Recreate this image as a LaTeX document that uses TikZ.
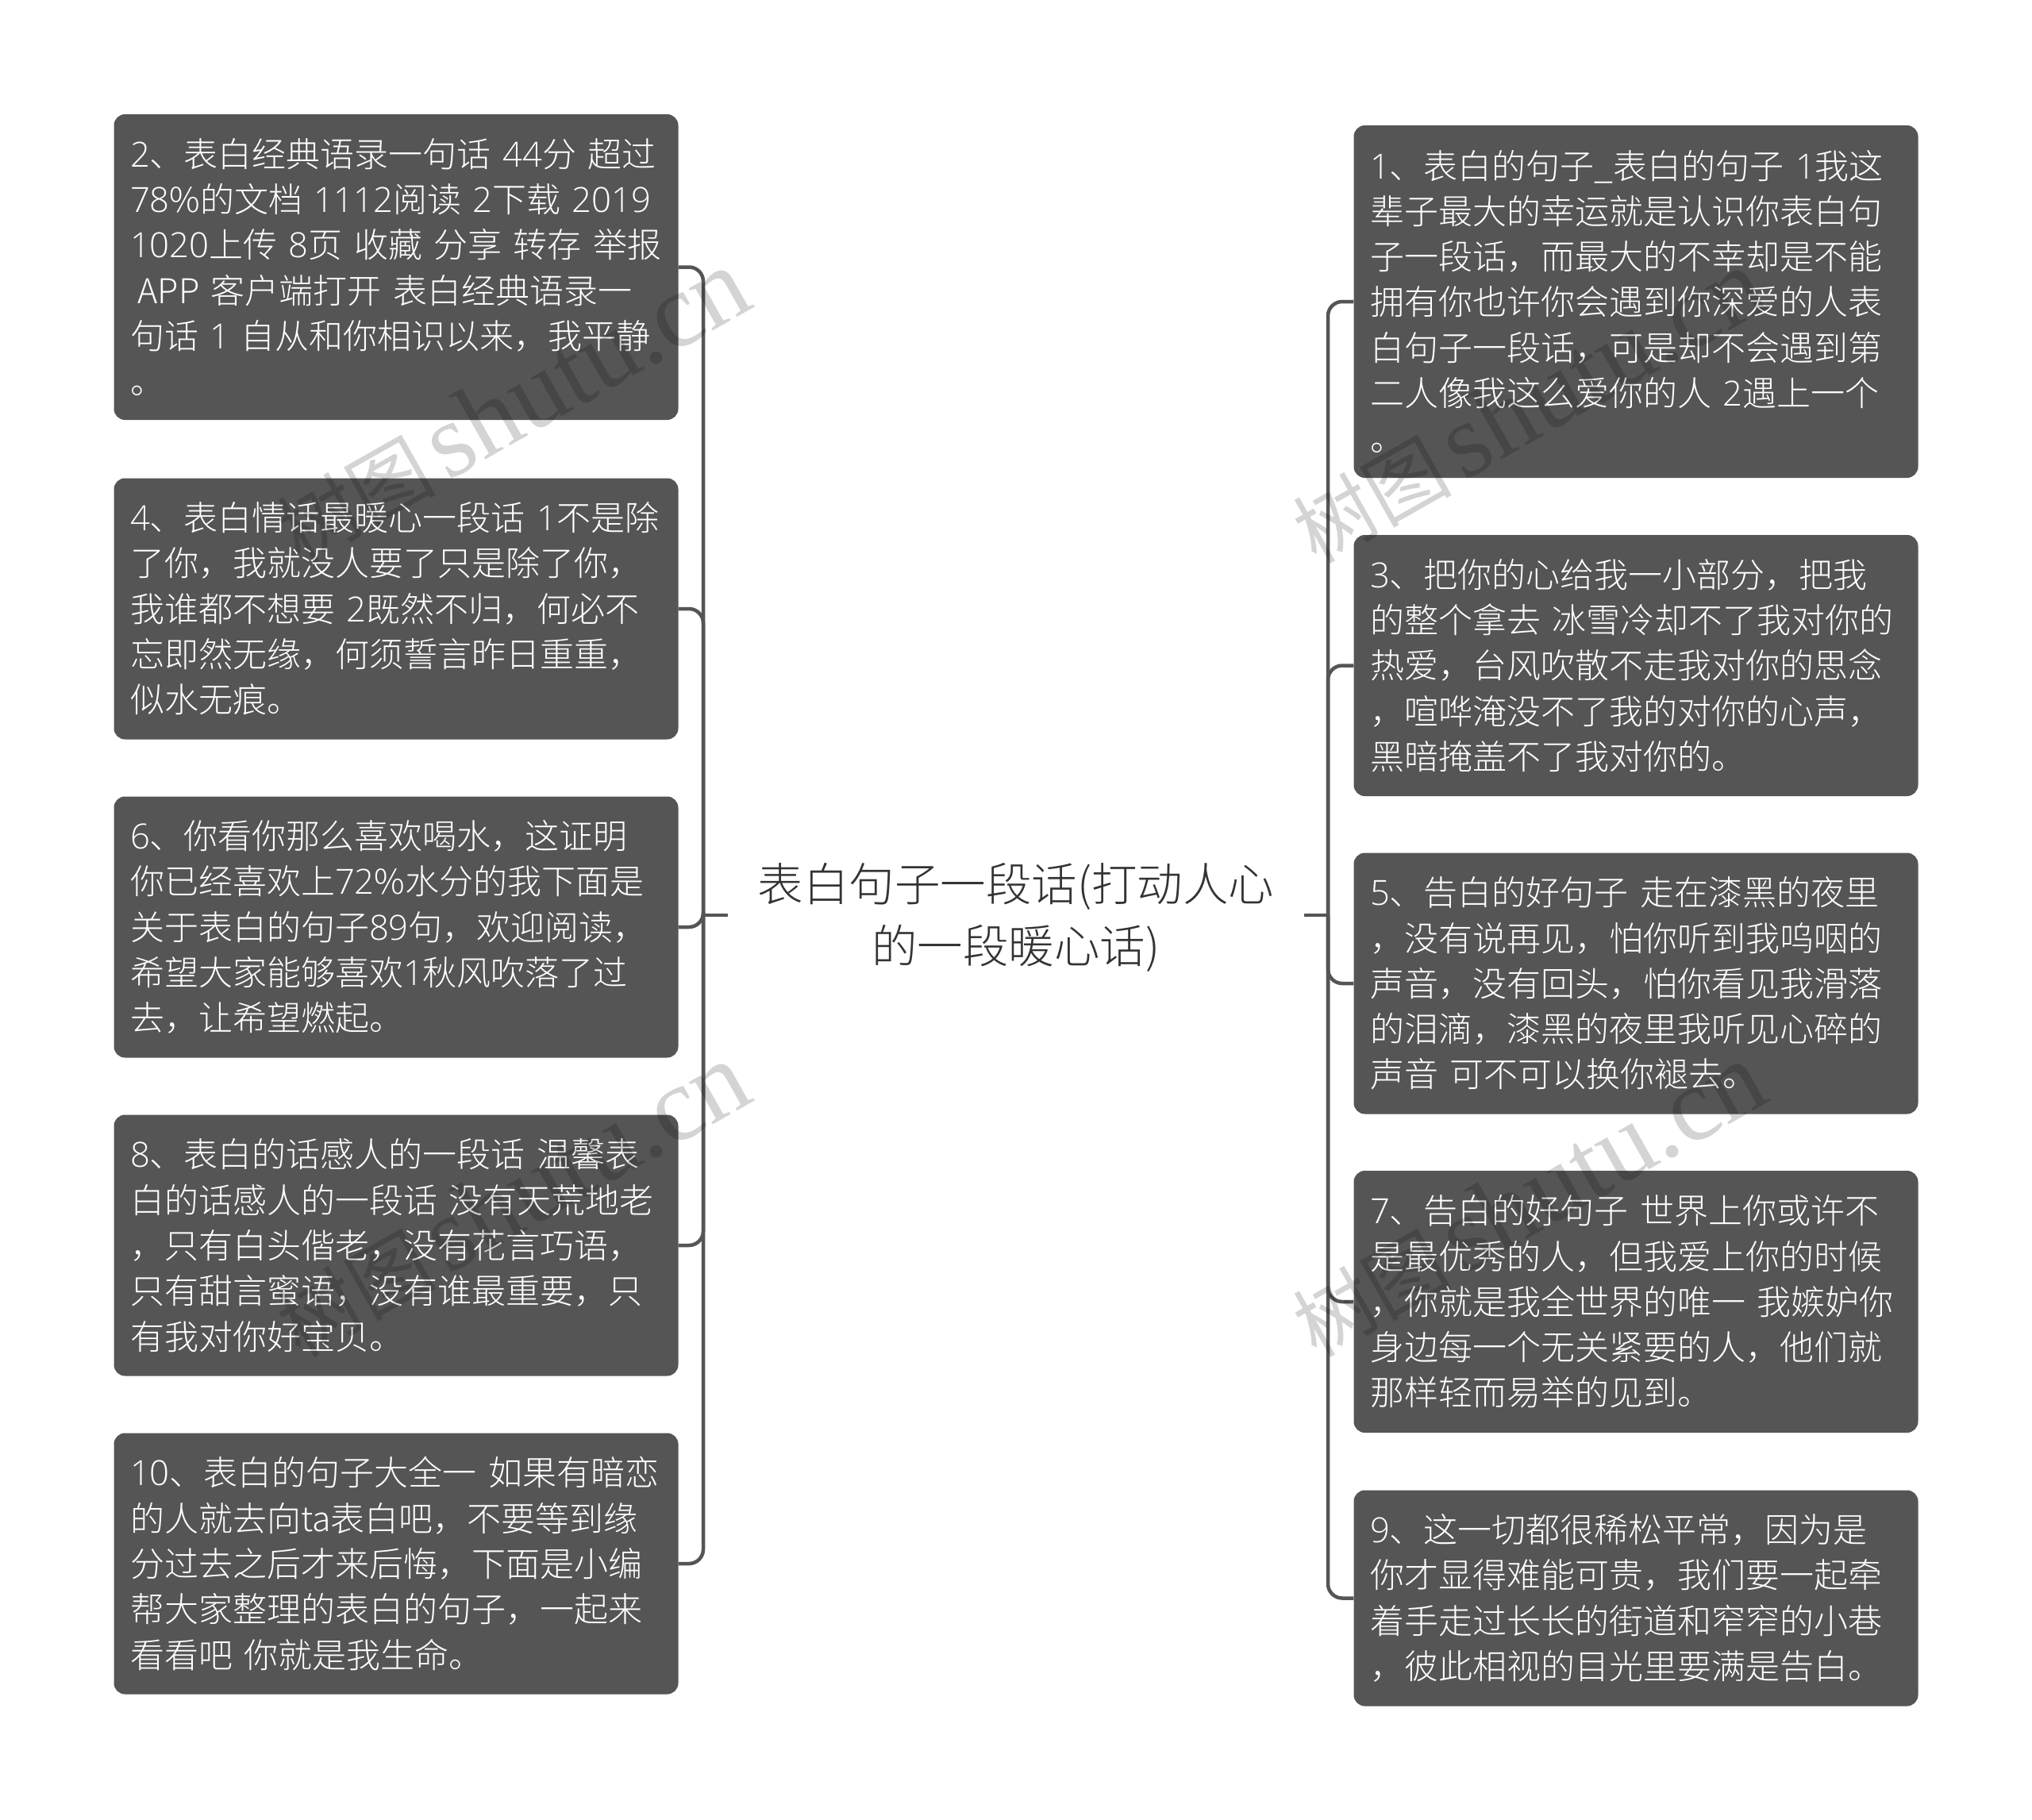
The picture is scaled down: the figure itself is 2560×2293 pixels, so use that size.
\documentclass[tikz,border=0pt]{standalone}
\usepackage{fontspec}
\setmainfont{Noto Sans CJK SC Light}[WordSpace=0.85]
\newfontfamily\markfont{Liberation Serif}
\newfontfamily\brandfont{Noto Sans CJK SC}
\newfontfamily\digitfont{Open Sans Light}[Scale=1.015]
\usepackage{xcolor}
\usetikzlibrary{positioning, calc}

\definecolor{boxgray}{HTML}{555555}
\definecolor{roottext}{HTML}{333333}

\newcommand{\dg}[1]{{\digitfont #1}}
\newcommand{\brand}{{\brandfont\fontsize{100}{120}\selectfont 树图}\hspace{14pt}{\markfont shutu.cn}}

\tikzset{
    leafbox/.style={rectangle, rounded corners=14pt, fill=boxgray, text=white, anchor=center,
          text width=670pt, minimum width=711pt, inner xsep=20.5pt, inner ysep=0pt, align=left,
          font=\fontsize{43}{57.3}\selectfont},
    rootbox/.style={rectangle, text=roottext, minimum width=726pt, inner sep=0pt, align=center,
          font=\fontsize{57.5}{78}\selectfont},
    link/.style={draw=boxgray, line width=4.5pt},
    wmark/.style={rectangle, rotate=29.5, text=black, opacity=0.17, inner sep=0pt,
          font=\fontsize{133}{140}\selectfont},
}

\begin{document}
\begin{tikzpicture}[x=1pt, y=-1pt]
    \path[use as bounding box, fill=white] (0,0) rectangle (2560,2293);

    \node[rootbox] (root) at (1280,1156)
        {表白句子一段话(打动人心\\的一段暖心话)};

    % left side
    \node[leafbox, minimum height=385pt] (tipA) at (499,336.5)
        {\dg{2}、表白经典语录一句话 \dg{44}分 超过\\\mbox{\dg{78}\%的文档 \dg{1112}阅读 \dg{2}下载 \dg{2019}}\\\mbox{\dg{1020}上传 \dg{8}页 收藏 分享 转存 举报}\\\hspace*{0.22em}APP 客户端打开 表白经典语录一\\句话 \dg{1} 自从和你相识以来，我平静\\。};
    \node[leafbox, minimum height=329pt] (tipC) at (499,767)
        {\dg{4}、表白情话最暖心一段话 \dg{1}不是除\\了你，我就没人要了只是除了你，\\我谁都不想要 \dg{2}既然不归，何必不\\忘即然无缘，何须誓言昨日重重，\\似水无痕。};
    \node[leafbox, minimum height=329pt] (tipE) at (499,1168)
        {\dg{6}、你看你那么喜欢喝水，这证明\\你已经喜欢上\dg{72}\%水分的我下面是\\关于表白的句子\dg{89}句，欢迎阅读，\\希望大家能够喜欢\dg{1}秋风吹落了过\\去，让希望燃起。};
    \node[leafbox, minimum height=329pt] (tipG) at (499,1569)
        {\dg{8}、表白的话感人的一段话 温馨表\\白的话感人的一段话 没有天荒地老\\，只有白头偕老，没有花言巧语，\\只有甜言蜜语，没有谁最重要，只\\有我对你好宝贝。};
    \node[leafbox, minimum height=329pt] (tipI) at (499,1970)
        {\dg{10}、表白的句子大全一 如果有暗恋\\的人就去向ta表白吧，不要等到缘\\分过去之后才来后悔，下面是小编\\帮大家整理的表白的句子，一起来\\看看吧 你就是我生命。};

    % right side
    \node[leafbox, minimum height=444pt] (tipB) at (2061,380)
        {\dg{1}、表白的句子\_表白的句子 \dg{1}我这\\辈子最大的幸运就是认识你表白句\\子一段话，而最大的不幸却是不能\\拥有你也许你会遇到你深爱的人表\\白句子一段话，可是却不会遇到第\\二人像我这么爱你的人 \dg{2}遇上一个\\。};
    \node[leafbox, minimum height=329pt] (tipD) at (2061,838.5)
        {\dg{3}、把你的心给我一小部分，把我\\的整个拿去 冰雪冷却不了我对你的\\热爱，台风吹散不走我对你的思念\\，喧哗淹没不了我的对你的心声，\\黑暗掩盖不了我对你的。};
    \node[leafbox, minimum height=329pt] (tipF) at (2061,1239)
        {\dg{5}、告白的好句子 走在漆黑的夜里\\，没有说再见，怕你听到我呜咽的\\声音，没有回头，怕你看见我滑落\\的泪滴，漆黑的夜里我听见心碎的\\声音 可不可以换你褪去。};
    \node[leafbox, minimum height=330pt] (tipH) at (2061,1640)
        {\dg{7}、告白的好句子 世界上你或许不\\是最优秀的人，但我爱上你的时候\\，你就是我全世界的唯一 我嫉妒你\\身边每一个无关紧要的人，他们就\\那样轻而易举的见到。};
    \node[leafbox, minimum height=272pt] (tipJ) at (2061,2013.5)
        {\dg{9}、这一切都很稀松平常，因为是\\你才显得难能可贵，我们要一起牵\\着手走过长长的街道和窄窄的小巷\\，彼此相视的目光里要满是告白。};

    \coordinate (spineL) at (886,1153);
    \coordinate (spineR) at (1673,1153);
    \draw[link] (root.west |- spineL) -- (spineL);
    \draw[link] (root.east |- spineR) -- (spineR);
    \foreach \tip in {tipA, tipC, tipE, tipG, tipI}
        \draw[link, rounded corners=18pt] (spineL) |- (\tip.east);
    \foreach \tip in {tipB, tipD, tipF, tipH, tipJ}
        \draw[link, rounded corners=18pt] (spineR) |- (\tip.west);

    % watermarks
    \node[wmark] (markA) at (645,512) {\brand};
    \node[wmark] (markB) at (1925,512) {\brand};
    \node[wmark] (markC) at (645,1512) {\brand};
    \node[wmark] (markD) at (1925,1512) {\brand};
\end{tikzpicture}
\end{document}
